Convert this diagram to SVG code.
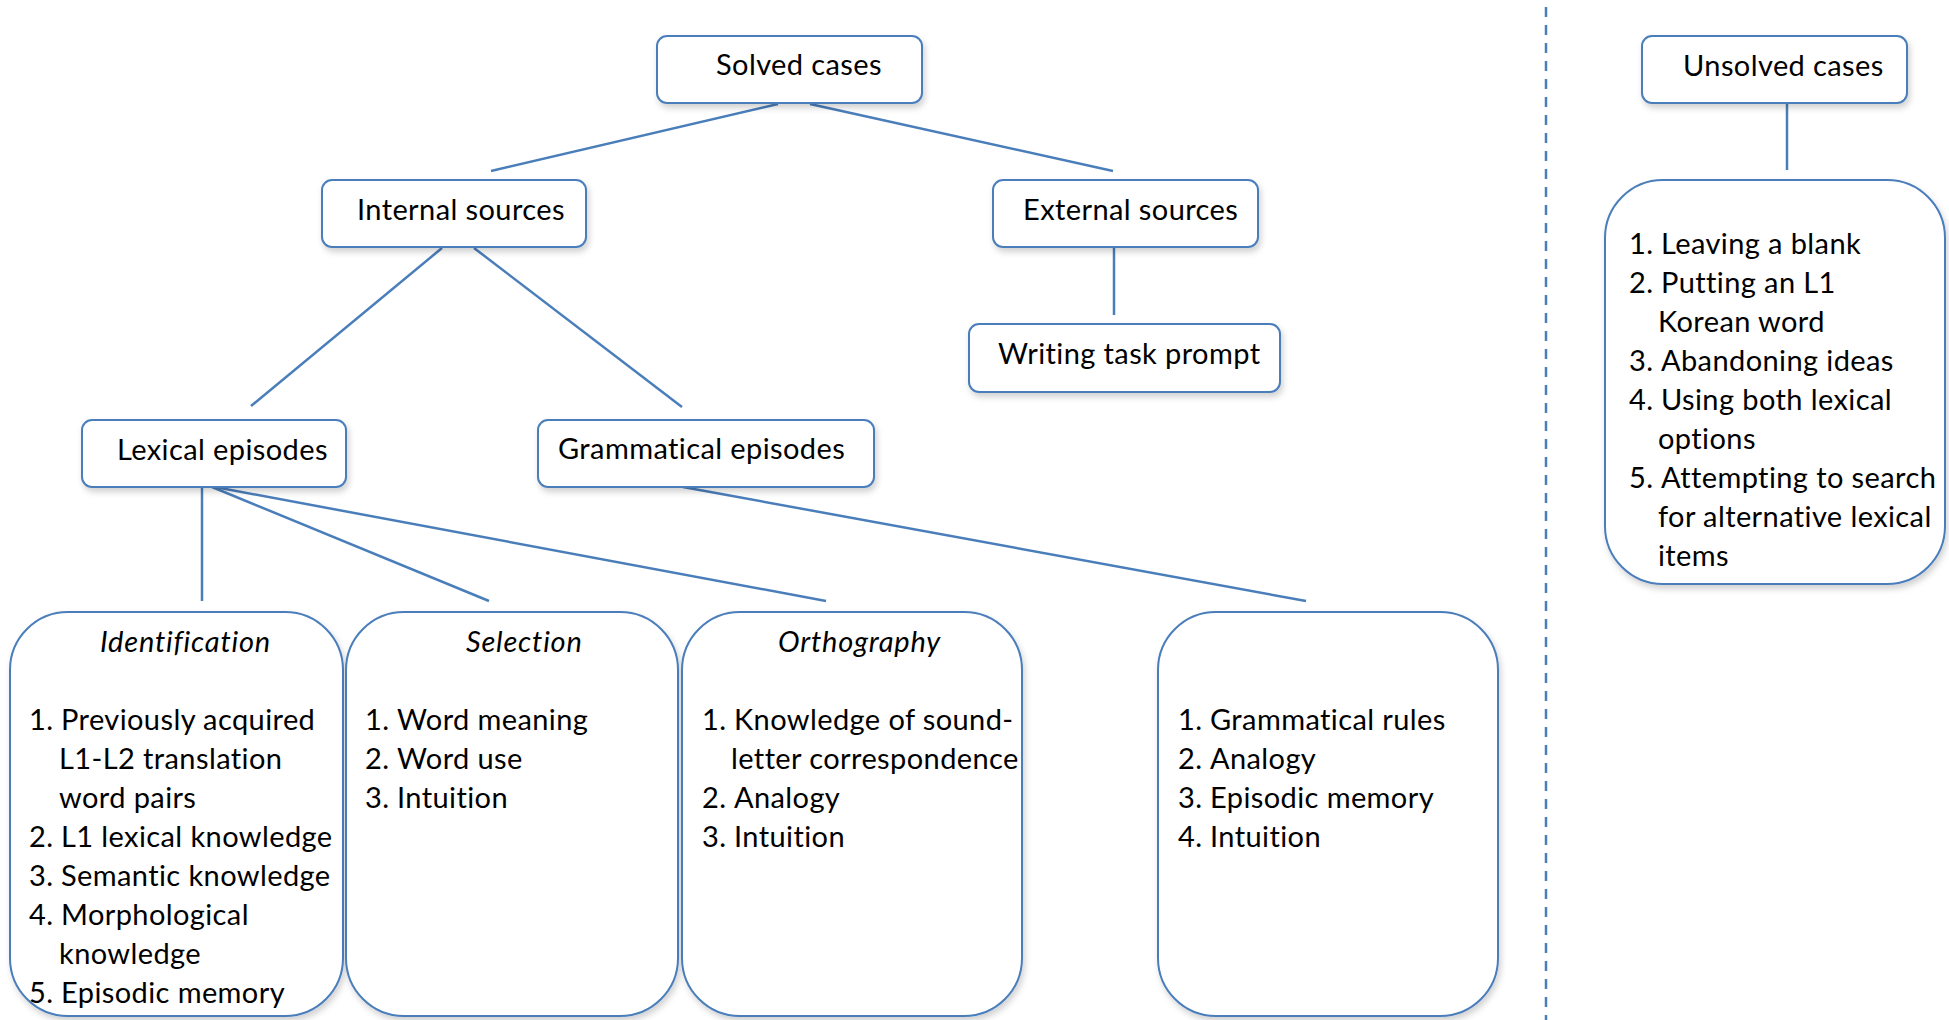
<svg xmlns="http://www.w3.org/2000/svg" width="1949" height="1020" viewBox="0 0 1949 1020">
  <defs>
    <filter id="shadow" x="-10%" y="-10%" width="125%" height="130%">
      <feDropShadow dx="2" dy="4" stdDeviation="3" flood-color="#000" flood-opacity="0.18"/>
    </filter>
    <style>
      .box { fill: #fff; stroke: #4A7EBB; stroke-width: 2; filter: url(#shadow); }
      .link { stroke: #4A7EBB; stroke-width: 2.5; fill: none; }
      .divider { stroke: #4A7EBB; stroke-width: 2.5; stroke-dasharray: 10 8; fill: none; }
      text { font-family: Lato, "Liberation Sans", sans-serif; font-size: 29px; letter-spacing: 0.4px; fill: #000; }
      .title { font-style: italic; letter-spacing: 0.8px; }
    </style>
  </defs>

  <rect width="1949" height="1020" fill="#fff"/>

  <!-- connectors -->
  <g id="connectors">
    <line class="link" x1="778" y1="104" x2="491" y2="171"/>
    <line class="link" x1="810" y1="104" x2="1113" y2="171"/>
    <line class="link" x1="442" y1="248" x2="251" y2="406"/>
    <line class="link" x1="474" y1="248" x2="682" y2="407"/>
    <line class="link" x1="1114" y1="247" x2="1114" y2="315"/>
    <line class="link" x1="202" y1="487" x2="202" y2="601"/>
    <line class="link" x1="212" y1="487" x2="489" y2="601"/>
    <line class="link" x1="215" y1="487" x2="826" y2="601"/>
    <line class="link" x1="683" y1="487" x2="1306" y2="601"/>
    <line class="link" x1="1787" y1="103" x2="1787" y2="170"/>
    <line class="divider" x1="1546" y1="7" x2="1546" y2="1020"/>
  </g>

  <!-- top-level nodes -->
  <g id="solved-cases">
    <rect class="box" x="657" y="36" width="265" height="67" rx="10"/>
    <text x="716" y="75">Solved cases</text>
  </g>
  <g id="internal-sources">
    <rect class="box" x="322" y="180" width="264" height="67" rx="10"/>
    <text x="357" y="220">Internal sources</text>
  </g>
  <g id="external-sources">
    <rect class="box" x="993" y="180" width="265" height="67" rx="10"/>
    <text x="1023" y="220">External sources</text>
  </g>
  <g id="writing-task-prompt">
    <rect class="box" x="969" y="324" width="311" height="68" rx="10"/>
    <text x="998" y="364">Writing task prompt</text>
  </g>
  <g id="lexical-episodes">
    <rect class="box" x="82" y="420" width="264" height="67" rx="10"/>
    <text x="117" y="460">Lexical episodes</text>
  </g>
  <g id="grammatical-episodes">
    <rect class="box" x="538" y="420" width="336" height="67" rx="10"/>
    <text x="558" y="459">Grammatical episodes</text>
  </g>

  <!-- lexical episode categories -->
  <g id="identification">
    <rect class="box" x="10" y="612" width="333" height="404" rx="58"/>
    <text class="title" x="100" y="652">Identification</text>
    <text x="29" y="730">1.<tspan x="61">Previously acquired</tspan></text>
    <text x="59" y="769">L1-L2 translation</text>
    <text x="59" y="808">word pairs</text>
    <text x="29" y="847">2.<tspan x="61">L1 lexical knowledge</tspan></text>
    <text x="29" y="886">3.<tspan x="61">Semantic knowledge</tspan></text>
    <text x="29" y="925">4.<tspan x="61">Morphological</tspan></text>
    <text x="59" y="964">knowledge</text>
    <text x="29" y="1003">5.<tspan x="61">Episodic memory</tspan></text>
  </g>
  <g id="selection">
    <rect class="box" x="346" y="612" width="332" height="404" rx="58"/>
    <text class="title" x="466" y="652">Selection</text>
    <text x="365" y="730">1.<tspan x="397">Word meaning</tspan></text>
    <text x="365" y="769">2.<tspan x="397">Word use</tspan></text>
    <text x="365" y="808">3.<tspan x="397">Intuition</tspan></text>
  </g>
  <g id="orthography">
    <rect class="box" x="682" y="612" width="340" height="404" rx="58"/>
    <text class="title" x="778" y="652">Orthography</text>
    <text x="702" y="730">1.<tspan x="734">Knowledge of sound-</tspan></text>
    <text x="731" y="769">letter correspondence</text>
    <text x="702" y="808">2.<tspan x="734">Analogy</tspan></text>
    <text x="702" y="847">3.<tspan x="734">Intuition</tspan></text>
  </g>

  <!-- grammatical episode sources -->
  <g id="grammatical-sources">
    <rect class="box" x="1158" y="612" width="340" height="404" rx="58"/>
    <text x="1178" y="730">1.<tspan x="1210">Grammatical rules</tspan></text>
    <text x="1178" y="769">2.<tspan x="1210">Analogy</tspan></text>
    <text x="1178" y="808">3.<tspan x="1210">Episodic memory</tspan></text>
    <text x="1178" y="847">4.<tspan x="1210">Intuition</tspan></text>
  </g>

  <!-- unsolved cases -->
  <g id="unsolved-cases">
    <rect class="box" x="1642" y="36" width="265" height="67" rx="10"/>
    <text x="1683" y="76">Unsolved cases</text>
  </g>
  <g id="unsolved-strategies">
    <rect class="box" x="1605" y="180" width="340" height="404" rx="58"/>
    <text x="1629" y="254">1.<tspan x="1661">Leaving a blank</tspan></text>
    <text x="1629" y="293">2.<tspan x="1661">Putting an L1</tspan></text>
    <text x="1658" y="332">Korean word</text>
    <text x="1629" y="371">3.<tspan x="1661">Abandoning ideas</tspan></text>
    <text x="1629" y="410">4.<tspan x="1661">Using both lexical</tspan></text>
    <text x="1658" y="449">options</text>
    <text x="1629" y="488">5.<tspan x="1661">Attempting to search</tspan></text>
    <text x="1658" y="527">for alternative lexical</text>
    <text x="1658" y="566">items</text>
  </g>
</svg>
